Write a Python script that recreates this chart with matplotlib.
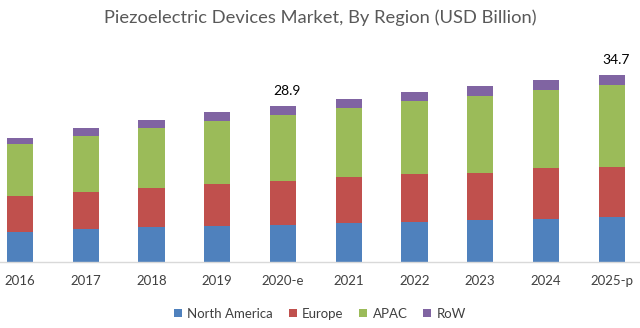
import matplotlib.pyplot as plt
import numpy as np

years = ['2016', '2017', '2018', '2019', '2020-e', '2021', '2022', '2023', '2024', '2025-p']
north_america = [5.7, 6.2, 6.5, 6.7, 7.0, 7.3, 7.5, 7.8, 8.0, 8.3]
europe = [6.5, 6.9, 7.3, 7.8, 8.0, 8.4, 8.8, 8.8, 9.4, 9.4]
apac = [9.6, 10.3, 11.0, 11.7, 12.3, 12.9, 13.6, 14.2, 14.5, 15.1]
row = [1.2, 1.4, 1.6, 1.5, 1.6, 1.6, 1.6, 1.8, 1.8, 1.9]
# totals shown above the first forecast year and the last year
labels = {4: 28.9, 9: 34.7}

plt.rcParams['font.family'] = ['Lato', 'DejaVu Sans']

fig = plt.figure(figsize=(6.4, 3.28), dpi=100)
ax = fig.add_axes([0, 0.2, 1, 0.66])

x = np.arange(len(years))
w = 0.4
series = [
    ('North America', north_america, '#4F81BD'),
    ('Europe', europe, '#C0504D'),
    ('APAC', apac, '#9BBB59'),
    ('RoW', row, '#8064A2'),
]
bottom = np.zeros(len(years))
for name, vals, col in series:
    ax.bar(x, vals, w, bottom=bottom, color=col, label=name, zorder=2)
    bottom += np.array(vals)

for i, v in labels.items():
    ax.text(x[i] + 0.06, bottom[i] + 1.6, f'{v}', ha='center', va='bottom',
            fontsize=10, color='#000000')

ax.set_xlim(-0.304, 9.43)
ax.set_ylim(0, 40)
ax.set_yticks([])
ax.set_xticks(x)
ax.set_xticklabels(years, fontsize=9.5, color='#404040')
ax.tick_params(axis='x', length=0, pad=9)
for s in ['top', 'right', 'left']:
    ax.spines[s].set_visible(False)
ax.spines['bottom'].set_color('#d9d9d9')
ax.spines['bottom'].set_linewidth(1)

fig.text(0.5, 0.945, 'Piezoelectric Devices Market, By Region (USD Billion)',
         ha='center', va='center', fontsize=13.2, color='#595959')

fig.legend(loc='center', bbox_to_anchor=(0.5, 0.043), ncol=4, frameon=False,
           fontsize=9.5, handlelength=0.6, handleheight=0.6, handletextpad=0.4,
           columnspacing=1.2, labelcolor='#404040')

fig.savefig('out.png', dpi=100)
